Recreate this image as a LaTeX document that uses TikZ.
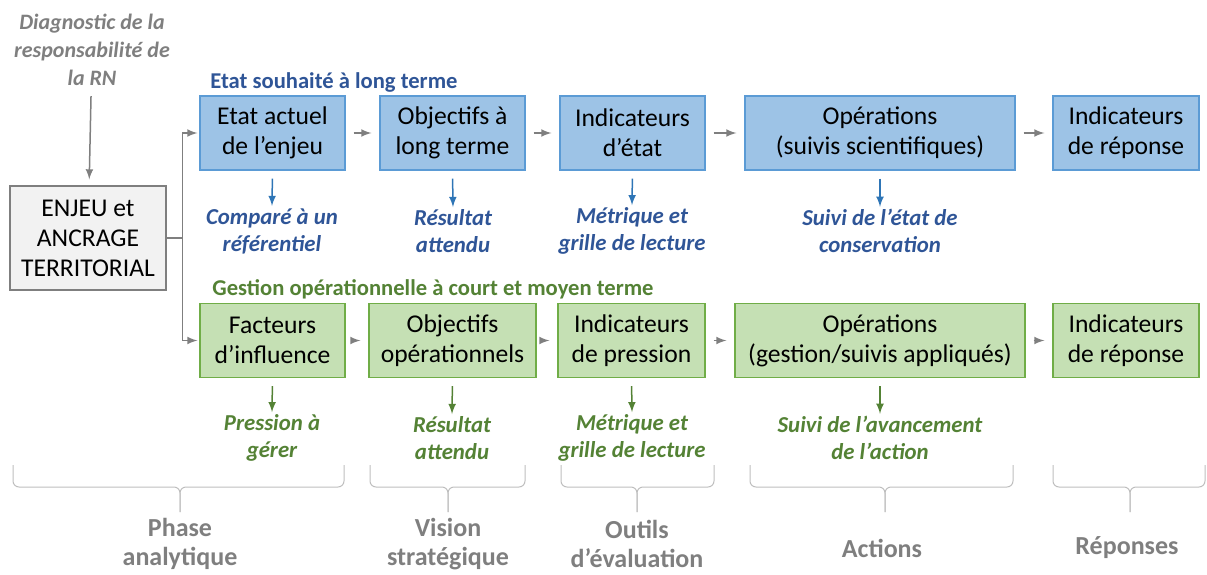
\documentclass[tikz,border=0pt]{standalone}
\usepackage{fontspec}
\setmainfont{Carlito}

\definecolor{boxblue}{HTML}{9DC3E6}
\definecolor{lineblue}{HTML}{5B9BD5}
\definecolor{textblue}{HTML}{2F5597}
\definecolor{arrowblue}{HTML}{2E75B6}
\definecolor{boxgreen}{HTML}{C5E0B4}
\definecolor{linegreen}{HTML}{70AD47}
\definecolor{textgreen}{HTML}{548235}
\definecolor{textgray}{HTML}{7F7F7F}
\definecolor{bracegray}{HTML}{BFBFBF}

\begin{document}
\begin{tikzpicture}[x=0.5pt,y=-0.5pt]

\tikzset{box/.style = {shape=rectangle,draw,line width=0.6pt,minimum height=37pt,align=center,inner sep=1pt,font=\fontsize{12.8}{15}\selectfont}}
\tikzset{bluebox/.style = {box,draw=lineblue,fill=boxblue}}
\tikzset{greenbox/.style = {box,draw=linegreen,fill=boxgreen}}
\tikzset{note/.style = {align=center,inner sep=1pt,font=\fontsize{11.4}{13.5}\selectfont\bfseries\itshape}}
\tikzset{phase/.style = {align=center,text=textgray,inner sep=1pt,font=\fontsize{13}{14.5}\selectfont\bfseries}}
\tikzset{link/.style = {->,>=latex,line width=0.75pt,draw=textgray}}
\tikzset{next/.style = {link,shorten <=4pt,shorten >=4pt}}
\tikzset{down/.style = {->,>=latex,line width=0.75pt,shorten <=4pt}}

\useasboundingbox (0,0) rectangle (1207,574);

% entree
\node[note,text=textgray,font=\fontsize{11}{14}\selectfont\bfseries\itshape] (diag) at (92,50) {Diagnostic de la\\responsabilité de\\la RN};
\node[box,draw=textgray,fill=black!5,minimum width=78pt,minimum height=52pt] (enjeu) at (88,238) {ENJEU et\\ANCRAGE\\TERRITORIAL};

% ligne du haut
\node[text=textblue,font=\fontsize{11.3}{13}\selectfont\bfseries,anchor=west,inner sep=0pt] (souhait) at (210,82) {Etat souhaité à long terme};
\node[bluebox,minimum width=72.5pt] (etat) at (272.5,133) {Etat actuel\\de l’enjeu};
\node[bluebox,minimum width=72.5pt] (objlt) at (452.5,133) {Objectifs à\\long terme};
\node[bluebox,minimum width=72.5pt] (indetat) at (632.5,133) {Indicateurs\\d’état};
\node[bluebox,minimum width=135pt] (opsci) at (880,133) {Opérations\\(suivis scientifiques)};
\node[bluebox,minimum width=73pt] (repA) at (1126,133) {Indicateurs\\de réponse};

\node[note,text=textblue] (cmp) at (272,231) {Comparé à un\\référentiel};
\node[note,text=textblue] (resA) at (453,231) {Résultat\\attendu};
\node[note,text=textblue] (metA) at (632,231) {Métrique et\\grille de lecture};
\node[note,text=textblue] (suiA) at (880,231) {Suivi de l’état de\\conservation};

% ligne du bas
\node[text=textgreen,font=\fontsize{11.3}{13}\selectfont\bfseries,anchor=west,inner sep=0pt] (gestion) at (212,289) {Gestion opérationnelle à court et moyen terme};
\node[greenbox,minimum width=72.5pt] (fact) at (272.5,340.5) {Facteurs\\d’influence};
\node[greenbox,minimum width=83.5pt] (objop) at (452.5,340.5) {Objectifs\\opérationnels};
\node[greenbox,minimum width=73.5pt] (indpr) at (631.5,340.5) {Indicateurs\\de pression};
\node[greenbox,minimum width=145pt] (opges) at (880,340.5) {Opérations\\(gestion/suivis appliqués)};
\node[greenbox,minimum width=73pt] (repB) at (1126,340.5) {Indicateurs\\de réponse};

\node[note,text=textgreen] (pres) at (272,438) {Pression à\\gérer};
\node[note,text=textgreen] (resB) at (452,438) {Résultat\\attendu};
\node[note,text=textgreen] (metB) at (632,438) {Métrique et\\grille de lecture};
\node[note,text=textgreen] (suiB) at (880,438) {Suivi de l’avancement\\de l’action};

% liens
\draw[link,shorten <=4pt,shorten >=3pt] (diag) -- (enjeu);
\draw[link,shorten >=1pt] (enjeu.east) -- ++(16,0) |- (etat.west);
\draw[link,shorten >=1pt] (enjeu.east) -- ++(16,0) |- (fact.west);

\draw[next] (etat) -- (objlt);
\draw[next] (objlt) -- (indetat);
\draw[next] (indetat) -- (opsci);
\draw[next] (opsci) -- (repA);
\draw[next] (fact) -- (objop);
\draw[next] (objop) -- (indpr);
\draw[next] (indpr) -- (opges);
\draw[next] (opges) -- (repB);

\draw[down,arrowblue] (etat.south) -- (cmp.north);
\draw[down,arrowblue] (objlt.south) -- (resA.north);
\draw[down,arrowblue] (indetat.south) -- (metA.north);
\draw[down,arrowblue] (opsci.south) -- (suiA.north);
\draw[down,textgreen] (fact.south) -- (pres.north);
\draw[down,textgreen] (objop.south) -- (resB.north);
\draw[down,textgreen] (indpr.south) -- (metB.north);
\draw[down,textgreen] (opges.south) -- (suiB.north);

% accolades
\foreach \xa/\xm/\xb in {13/180/344, 370/448/525, 561/637/714, 750/885/1013, 1053/1130/1205}
{
  \draw[bracegray,line width=0.5pt,rounded corners=3pt] (\xa,465) -- (\xa,487) -- (\xm,487) -- (\xm,512);
  \draw[bracegray,line width=0.5pt,rounded corners=3pt] (\xb,465) -- (\xb,487) -- (\xm,487) -- (\xm,512);
}

\node[phase] (analyt) at (180,544) {Phase\\analytique};
\node[phase] (vision) at (448,544) {Vision\\stratégique};
\node[phase] (outils) at (637,544) {Outils\\d’évaluation};
\node[phase] (actions) at (882,548) {Actions};
\node[phase] (reponses) at (1127,548) {Réponses};

\end{tikzpicture}
\end{document}
